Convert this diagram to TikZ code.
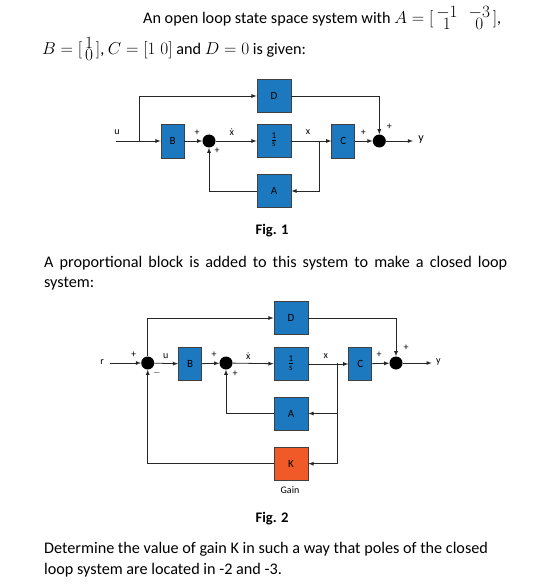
\documentclass[tikz,border=0pt]{standalone}
\usepackage{amsmath}
\usepackage{fontspec}
\setmainfont{Carlito}
\usepackage{tikz}
\usetikzlibrary{arrows,positioning,calc}
\definecolor{blkblue}{RGB}{28,121,192}
\definecolor{gainorange}{RGB}{240,90,40}

\begin{document}
\begin{tikzpicture}[x=1pt,y=-1pt,
			blk/.style={rectangle,draw=black!75,line width=0.8pt,inner sep=0pt,font=\fontsize{11}{11}\selectfont},
			wide/.style={blk,fill=blkblue,minimum width=34pt,minimum height=33pt},
			slim/.style={blk,fill=blkblue,minimum width=23pt,minimum height=34pt},
			gain/.style={blk,fill=gainorange,minimum width=34pt,minimum height=33pt},
			sum/.style={circle,fill=black,inner sep=0pt,minimum size=13pt},
			sig/.style={inner sep=0pt,font=\fontsize{10}{10}\selectfont},
			wire/.style={draw=black!85,line width=0.8pt,-latex},
			txt/.style={inner sep=0pt,font=\fontsize{16.2}{18}\selectfont},
			figcap/.style={inner sep=0pt,font=\fontsize{14.6}{18}\selectfont\bfseries}]
		\useasboundingbox (0,0) rectangle (550,588);
		\path 	(143,24) 	node 	(ln1) [txt,anchor=base west] {An open loop state space system with $A=[\,\begin{array}{@{}c@{\hspace{11pt}}c@{}}-1&-3\\[-6pt]1&0\end{array}\,]$,}
		        (42,55) 	node 	(ln2) [txt,anchor=base west] {$B=[\,\begin{array}{@{}c@{}}1\\[-6pt]0\end{array}\,]$, $C=[1\;0]$ and $D=0$ is given:}
		        (272,231) 	node 	(fig1) [figcap] {Fig. 1}
		        (44,263) 	node 	(ln3) [txt,anchor=west] {\makebox[463pt][s]{A proportional block is added to this system to make a closed loop}}
		        (44,284) 	node 	(ln4) [txt,anchor=west] {system:}
		        (272,519) 	node 	(fig2) [figcap] {Fig. 2}
		        (44,549) 	node 	(ln5) [txt,anchor=west] {Determine the value of gain K in such a way that poles of the closed}
		        (44,570) 	node 	(ln6) [txt,anchor=west] {loop system are located in -2 and -3.};
		% Fig. 1
		\path 	(116,141) 	coordinate 	(uin)
		        (139.3,141) coordinate 	(ub)
		        (319,141) 	coordinate 	(xb)
		        (413,141) 	coordinate 	(yout)
		        (117,132) 	node 	(ulab) [sig] {u}
		        (172.5,141) node 	(B) [slim] {B}
		        (209,141) 	node 	(s1) [sum, label={[sig,xshift=-12pt,yshift=8pt]center:+}, label={[sig,xshift=8pt,yshift=-10pt]center:+}] {}
		        (231.7,132) node 	(xdot) [sig] {$\dot{\mbox{x}}$}
		        (274,96) 	node 	(D) [wide] {D}
		        (274,141) 	node 	(I) [wide,font=\fontsize{9}{9}\selectfont] {\begin{tabular}{@{}c@{}}1\\[-1pt]\hline s\end{tabular}}
		        (274,191) 	node 	(A) [wide] {A}
		        (308,132) 	node 	(xlab) [sig] {x}
		        (343.3,141) node 	(C) [slim] {C}
		        (379.3,141) node 	(s2) [sum, label={[sig,xshift=-16pt,yshift=8pt]center:+}, label={[sig,xshift=10pt,yshift=14pt]center:+}] {}
		        (421,140) 	node 	(ylab) [sig,font=\fontsize{12}{12}\selectfont] {y};
		\draw [wire] (uin) -- (B);
		\draw [wire] (ub) |- (D);
		\draw [wire] (B) -- (s1);
		\draw [wire] (s1) -- (I);
		\draw [wire] (I) -- (C);
		\draw [wire] (xb) |- (A);
		\draw [wire] (A) -| (s1);
		\draw [wire] (D) -| (s2);
		\draw [wire] (C) -- (s2);
		\draw [wire] (s2) -- (yout);
		% Fig. 2
		\path 	(110,363) 	coordinate 	(rin)
		        (337.3,363) coordinate 	(xbb)
		        (431.7,363) coordinate 	(youtb)
		        (102,362) 	node 	(rlab) [sig] {r}
		        (147.7,363) node 	(s0) [sum, label={[sig,xshift=-14pt,yshift=8pt]center:+}, label={[sig,xshift=9pt,yshift=-10pt]center:$-$}] {}
		        (165.7,356) node 	(ulabb) [sig] {u}
		        (190,364) 	node 	(Bb) [slim,minimum height=33pt] {B}
		        (226,363) 	node 	(s1b) [sum, label={[sig,xshift=-12pt,yshift=8pt]center:+}, label={[sig,xshift=9pt,yshift=-11pt]center:+}] {}
		        (248.3,356) node 	(xdotb) [sig] {$\dot{\mbox{x}}$}
		        (291,318) 	node 	(Db) [wide] {D}
		        (291,364) 	node 	(Ib) [wide,font=\fontsize{9}{9}\selectfont] {\begin{tabular}{@{}c@{}}1\\[-1pt]\hline s\end{tabular}}
		        (291,413.5) node 	(Ab) [wide] {A}
		        (291,463.7) node 	(K) [gain] {K}
		        (290,490) 	node 	(gainlab) [sig] {Gain}
		        (325.7,356) node 	(xlabb) [sig] {x}
		        (360.3,364) node 	(Cb) [slim,minimum height=33pt] {C}
		        (396,363) 	node 	(s2b) [sum, label={[sig,xshift=-17pt,yshift=8pt]center:+}, label={[sig,xshift=10pt,yshift=15pt]center:+}] {}
		        (438.3,362) node 	(ylabb) [sig] {y};
		\draw [wire] (rin) -- (s0);
		\draw [wire] (s0) -- (Bb);
		\draw [wire] (s0) |- (Db);
		\draw [wire] (Bb) -- (s1b);
		\draw [wire] (s1b) -- (Ib);
		\draw [wire] (Ib) -- (Cb);
		\draw [wire] (xbb) |- (Ab);
		\draw [wire] (xbb) |- (K);
		\draw [wire] (Ab) -| (s1b);
		\draw [wire] (K) -| (s0);
		\draw [wire] (Db) -| (s2b);
		\draw [wire] (Cb) -- (s2b);
		\draw [wire] (s2b) -- (youtb);
	\end{tikzpicture}
\end{document}
